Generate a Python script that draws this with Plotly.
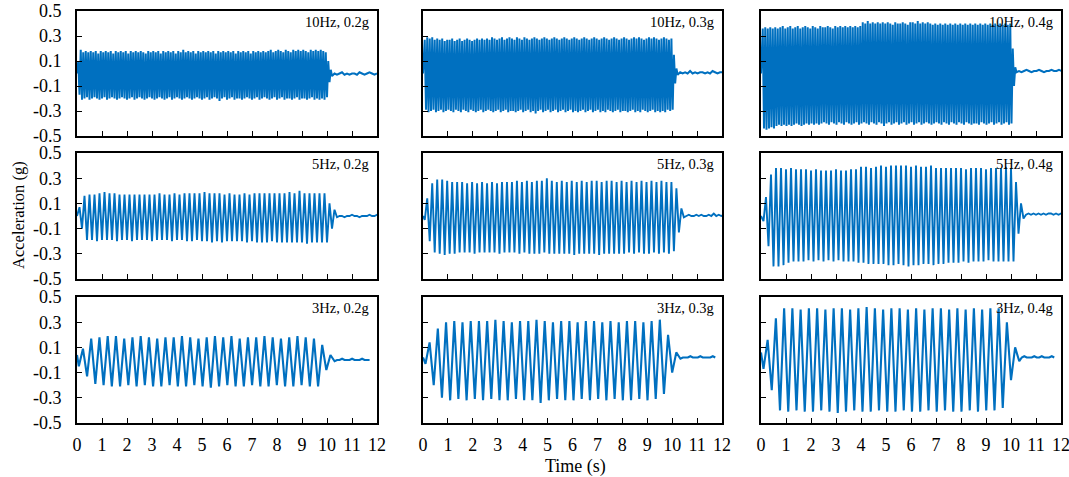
import plotly.graph_objects as go

BLUE = "#0070C0"
FONT = "Liberation Serif, Times New Roman, serif"

TIME_TICKS = list(range(13))
ACC_TICKS = [-0.5, -0.3, -0.1, 0.1, 0.3, 0.5]
ACC_TICK_TEXT = ["-0.5", "-0.3", "-0.1", "0.1", "0.3", "0.5"]

LABELS = [["10Hz, 0.2g", "10Hz, 0.3g", "10Hz, 0.4g"],
          ["5Hz, 0.2g", "5Hz, 0.3g", "5Hz, 0.4g"],
          ["3Hz, 0.2g", "3Hz, 0.3g", "3Hz, 0.4g"]]

# value at t = 0, time of first extreme, time between successive extremes (s)
START = [[0.00, 0.00, 0.00], [0.00, 0.00, 0.00], [0.04, 0.02, 0.06]]
ONSET = [[0.05, 0.07, 0.07], [0.10, 0.07, 0.10], [0.073, 0.10, 0.10]]
HALF = [[0.05, 0.05, 0.05], [0.10, 0.10, 0.10], [0.165, 0.165, 0.165]]
TAIL_STEP = 0.1

# successive extremes (g) of each record
SIG_10HZ_02G = [
    0.10, -0.17, 0.19, -0.21, 0.17, -0.20, 0.18, -0.19, 0.17, -0.21,
    0.18, -0.20, 0.17, -0.19, 0.18, -0.20, 0.16, -0.21, 0.18, -0.20,
    0.17, -0.19, 0.18, -0.21, 0.17, -0.20, 0.18, -0.19, 0.16, -0.20,
    0.18, -0.21, 0.17, -0.20, 0.18, -0.19, 0.17, -0.20, 0.18, -0.21,
    0.16, -0.20, 0.18, -0.19, 0.17, -0.21, 0.18, -0.20, 0.17, -0.19,
    0.18, -0.20, 0.17, -0.21, 0.16, -0.20, 0.18, -0.19, 0.17, -0.20,
    0.18, -0.21, 0.17, -0.20, 0.18, -0.19, 0.16, -0.20, 0.18, -0.21,
    0.17, -0.20, 0.18, -0.19, 0.17, -0.21, 0.18, -0.20, 0.16, -0.19,
    0.18, -0.20, 0.17, -0.21, 0.19, -0.20, 0.17, -0.19, 0.18, -0.20,
    0.17, -0.21, 0.18, -0.20, 0.16, -0.19, 0.18, -0.20, 0.17, -0.21,
    0.18, -0.20, 0.17, -0.19, 0.18, -0.21, 0.17, -0.20, 0.18, -0.19,
    0.16, -0.20, 0.18, -0.22, 0.17, -0.20, 0.18, -0.19, 0.17, -0.21,
    0.18, -0.20, 0.17, -0.19, 0.18, -0.21, 0.16, -0.20, 0.18, -0.20,
    0.17, -0.21, 0.18, -0.20, 0.17, -0.19, 0.18, -0.20, 0.16, -0.21,
    0.18, -0.20, 0.17, -0.19, 0.18, -0.21, 0.17, -0.20, 0.18, -0.19,
    0.17, -0.20, 0.18, -0.21, 0.19, -0.20, 0.17, -0.19, 0.18, -0.21,
    0.19, -0.20, 0.18, -0.19, 0.17, -0.21, 0.19, -0.20, 0.18, -0.20,
    0.17, -0.21, 0.19, -0.20, 0.18, -0.19, 0.19, -0.21, 0.18, -0.20,
    0.19, -0.20, 0.18, -0.21, 0.17, -0.20, 0.19, -0.19, 0.18, -0.21,
    0.19, -0.20, 0.18, -0.21, 0.19, -0.20, 0.18, -0.21, 0.17, -0.19,
    0.10, -0.07, 0.03, -0.02]
SIG_10HZ_03G = [
    0.27, -0.29, 0.29, -0.31, 0.28, -0.30, 0.29, -0.29, 0.27, -0.31,
    0.28, -0.30, 0.27, -0.29, 0.28, -0.31, 0.26, -0.30, 0.27, -0.29,
    0.27, -0.30, 0.28, -0.31, 0.26, -0.29, 0.27, -0.30, 0.28, -0.31,
    0.26, -0.29, 0.27, -0.30, 0.28, -0.31, 0.27, -0.29, 0.26, -0.30,
    0.27, -0.31, 0.28, -0.30, 0.27, -0.29, 0.28, -0.31, 0.27, -0.30,
    0.28, -0.29, 0.27, -0.30, 0.29, -0.31, 0.28, -0.30, 0.27, -0.29,
    0.28, -0.31, 0.29, -0.30, 0.27, -0.29, 0.28, -0.31, 0.29, -0.30,
    0.28, -0.30, 0.27, -0.31, 0.29, -0.30, 0.28, -0.29, 0.27, -0.31,
    0.29, -0.30, 0.28, -0.29, 0.27, -0.31, 0.28, -0.30, 0.29, -0.32,
    0.28, -0.30, 0.27, -0.29, 0.28, -0.31, 0.29, -0.30, 0.28, -0.29,
    0.27, -0.31, 0.28, -0.30, 0.29, -0.29, 0.28, -0.31, 0.27, -0.30,
    0.28, -0.29, 0.29, -0.31, 0.28, -0.30, 0.27, -0.29, 0.28, -0.31,
    0.29, -0.30, 0.28, -0.31, 0.27, -0.30, 0.28, -0.29, 0.29, -0.31,
    0.28, -0.30, 0.27, -0.29, 0.28, -0.31, 0.29, -0.30, 0.28, -0.29,
    0.27, -0.31, 0.28, -0.30, 0.29, -0.31, 0.28, -0.29, 0.27, -0.30,
    0.28, -0.31, 0.29, -0.30, 0.28, -0.29, 0.27, -0.31, 0.28, -0.30,
    0.29, -0.30, 0.28, -0.31, 0.27, -0.30, 0.28, -0.29, 0.29, -0.31,
    0.28, -0.30, 0.29, -0.31, 0.28, -0.29, 0.27, -0.30, 0.28, -0.31,
    0.29, -0.30, 0.28, -0.29, 0.29, -0.31, 0.28, -0.30, 0.27, -0.31,
    0.28, -0.30, 0.29, -0.31, 0.28, -0.29, 0.27, -0.30, 0.28, -0.29,
    0.15, -0.08, 0.04, -0.01]
SIG_10HZ_04G = [
    0.36, -0.44, 0.37, -0.45, 0.36, -0.44, 0.37, -0.43, 0.36, -0.44,
    0.37, -0.42, 0.36, -0.41, 0.37, -0.42, 0.38, -0.41, 0.36, -0.42,
    0.37, -0.41, 0.38, -0.42, 0.36, -0.41, 0.37, -0.40, 0.38, -0.41,
    0.36, -0.42, 0.37, -0.41, 0.38, -0.40, 0.37, -0.41, 0.36, -0.40,
    0.38, -0.41, 0.37, -0.40, 0.36, -0.41, 0.38, -0.40, 0.37, -0.39,
    0.37, -0.40, 0.38, -0.41, 0.37, -0.39, 0.36, -0.40, 0.38, -0.41,
    0.37, -0.39, 0.38, -0.40, 0.37, -0.41, 0.38, -0.39, 0.37, -0.40,
    0.38, -0.41, 0.37, -0.40, 0.38, -0.39, 0.37, -0.41, 0.38, -0.40,
    0.41, -0.39, 0.40, -0.40, 0.42, -0.41, 0.40, -0.39, 0.41, -0.40,
    0.40, -0.41, 0.41, -0.39, 0.40, -0.40, 0.41, -0.42, 0.40, -0.40,
    0.41, -0.39, 0.40, -0.41, 0.39, -0.40, 0.41, -0.39, 0.40, -0.41,
    0.40, -0.40, 0.41, -0.39, 0.40, -0.41, 0.39, -0.40, 0.41, -0.39,
    0.41, -0.41, 0.40, -0.40, 0.42, -0.39, 0.40, -0.41, 0.41, -0.40,
    0.40, -0.39, 0.41, -0.40, 0.40, -0.41, 0.39, -0.40, 0.40, -0.39,
    0.39, -0.40, 0.40, -0.41, 0.39, -0.39, 0.40, -0.40, 0.39, -0.41,
    0.40, -0.39, 0.39, -0.40, 0.40, -0.41, 0.39, -0.39, 0.40, -0.40,
    0.39, -0.41, 0.40, -0.39, 0.39, -0.40, 0.40, -0.41, 0.39, -0.40,
    0.40, -0.40, 0.39, -0.41, 0.40, -0.39, 0.39, -0.40, 0.40, -0.41,
    0.39, -0.40, 0.40, -0.39, 0.39, -0.41, 0.40, -0.40, 0.39, -0.39,
    0.40, -0.41, 0.39, -0.40, 0.40, -0.39, 0.39, -0.41, 0.40, -0.40,
    0.20, -0.10, 0.05, 0.01]
SIG_5HZ_02G = [
    0.07, -0.10, 0.16, -0.19,
    0.17, -0.19, 0.17, -0.20, 0.18, -0.19, 0.19, -0.19, 0.18, -0.19,
    0.18, -0.20, 0.17, -0.19, 0.17, -0.19, 0.17, -0.20, 0.17, -0.19,
    0.17, -0.19, 0.17, -0.19, 0.17, -0.20, 0.17, -0.19, 0.18, -0.19,
    0.17, -0.19, 0.17, -0.20, 0.18, -0.19, 0.17, -0.19, 0.18, -0.20,
    0.18, -0.20, 0.18, -0.19, 0.18, -0.20, 0.19, -0.20, 0.18, -0.21,
    0.18, -0.20, 0.18, -0.21, 0.17, -0.20, 0.18, -0.20, 0.17, -0.20,
    0.17, -0.20, 0.18, -0.21, 0.17, -0.20, 0.18, -0.21, 0.18, -0.21,
    0.18, -0.21, 0.18, -0.20, 0.18, -0.21, 0.18, -0.21, 0.18, -0.21,
    0.19, -0.21, 0.18, -0.21, 0.20, -0.21, 0.18, -0.22, 0.18, -0.21,
    0.18, -0.21, 0.18, -0.21,
    0.18, -0.21, 0.10, -0.10, 0.05, -0.01]
SIG_5HZ_03G = [
    -0.03, 0.14, -0.20, 0.26, -0.29,
    0.29, -0.30, 0.29, -0.31, 0.28, -0.30, 0.27, -0.30, 0.27, -0.29,
    0.27, -0.29, 0.26, -0.29, 0.27, -0.30, 0.26, -0.29, 0.27, -0.29,
    0.26, -0.29, 0.27, -0.29, 0.26, -0.30, 0.27, -0.29, 0.27, -0.29,
    0.27, -0.29, 0.28, -0.30, 0.27, -0.29, 0.28, -0.30, 0.27, -0.30,
    0.28, -0.30, 0.28, -0.29, 0.30, -0.30, 0.28, -0.30, 0.27, -0.30,
    0.28, -0.30, 0.27, -0.30, 0.28, -0.31, 0.27, -0.30, 0.28, -0.30,
    0.27, -0.30, 0.28, -0.30, 0.28, -0.31, 0.27, -0.30, 0.28, -0.30,
    0.28, -0.30, 0.27, -0.30, 0.28, -0.30, 0.27, -0.29, 0.28, -0.30,
    0.27, -0.29, 0.28, -0.30, 0.27, -0.30, 0.28, -0.29, 0.27, -0.30,
    0.28, -0.29, 0.27, -0.30,
    0.27, -0.28, 0.22, -0.13, 0.06, -0.01]
SIG_5HZ_04G = [
    -0.04, 0.15, -0.24, 0.33, -0.40,
    0.38, -0.40, 0.38, -0.39, 0.37, -0.37, 0.38, -0.36, 0.37, -0.36,
    0.37, -0.36, 0.37, -0.35, 0.36, -0.36, 0.37, -0.35, 0.36, -0.36,
    0.36, -0.35, 0.36, -0.36, 0.37, -0.35, 0.36, -0.36, 0.36, -0.36,
    0.37, -0.36, 0.37, -0.37, 0.39, -0.37, 0.39, -0.38, 0.38, -0.38,
    0.39, -0.38, 0.40, -0.38, 0.39, -0.39, 0.40, -0.39, 0.40, -0.38,
    0.40, -0.39, 0.40, -0.40, 0.39, -0.39, 0.40, -0.39, 0.39, -0.38,
    0.39, -0.38, 0.40, -0.39, 0.38, -0.38, 0.38, -0.38, 0.38, -0.37,
    0.38, -0.37, 0.38, -0.37, 0.38, -0.36, 0.37, -0.37, 0.38, -0.36,
    0.38, -0.36, 0.38, -0.36, 0.37, -0.35, 0.38, -0.36, 0.38, -0.36,
    0.38, -0.36, 0.39, -0.36,
    0.38, -0.36, 0.27, -0.14, 0.10, -0.02]
SIG_3HZ_02G = [
    -0.05, 0.09, -0.13, 0.17, -0.19,
    0.18, -0.20, 0.19, -0.21, 0.19, -0.21, 0.17, -0.20, 0.18, -0.21,
    0.19, -0.20, 0.18, -0.21, 0.17, -0.21, 0.18, -0.20, 0.18, -0.21,
    0.19, -0.21, 0.18, -0.20, 0.17, -0.21, 0.18, -0.22, 0.19, -0.21,
    0.18, -0.20, 0.19, -0.21, 0.17, -0.21, 0.18, -0.20, 0.18, -0.21,
    0.19, -0.21, 0.18, -0.20, 0.17, -0.21, 0.18, -0.21, 0.19, -0.20,
    0.18, -0.21, 0.17, -0.21,
    0.12, -0.08, 0.04, -0.01]
SIG_3HZ_03G = [
    -0.03, 0.14, -0.20, 0.25, -0.30,
    0.30, -0.32, 0.31, -0.31, 0.30, -0.32, 0.31, -0.31, 0.31, -0.32,
    0.31, -0.31, 0.32, -0.32, 0.31, -0.32, 0.30, -0.31, 0.31, -0.32,
    0.31, -0.32, 0.32, -0.34, 0.31, -0.32, 0.30, -0.31, 0.31, -0.32,
    0.31, -0.32, 0.30, -0.31, 0.31, -0.32, 0.31, -0.31, 0.30, -0.32,
    0.31, -0.31, 0.30, -0.32, 0.31, -0.32, 0.31, -0.31, 0.30, -0.32,
    0.31, -0.31, 0.32, -0.27,
    0.20, -0.10, 0.06, 0.01]
SIG_3HZ_04G = [
    -0.07, 0.16, -0.24, 0.33, -0.40,
    0.41, -0.41, 0.41, -0.40, 0.40, -0.41, 0.41, -0.41, 0.41, -0.40,
    0.40, -0.41, 0.41, -0.42, 0.41, -0.41, 0.40, -0.40, 0.41, -0.41,
    0.42, -0.41, 0.41, -0.40, 0.40, -0.41, 0.41, -0.41, 0.41, -0.40,
    0.40, -0.41, 0.41, -0.41, 0.40, -0.40, 0.41, -0.41, 0.41, -0.40,
    0.40, -0.41, 0.41, -0.41, 0.40, -0.40, 0.41, -0.41, 0.40, -0.40,
    0.41, -0.40, 0.41, -0.38,
    0.30, -0.16, 0.10, -0.01]

# residual signal after shaking stops (one value every TAIL_STEP)
TAIL_10HZ_02G = [0.00, -0.01, 0.00, 0.01, -0.01, 0.00, -0.01, 0.00, 0.00,
                 -0.01, 0.01, 0.00, -0.01, 0.00, 0.01, 0.00, -0.01, 0.00]
TAIL_10HZ_03G = [0.01, 0.00, 0.01, 0.00, 0.02, 0.00, 0.01, 0.00, 0.01,
                 0.01, 0.00, 0.01, 0.00, 0.02, 0.01, 0.00, 0.01, 0.01]
TAIL_10HZ_04G = [0.02, 0.01, 0.02, 0.03, 0.02, 0.01, 0.02, 0.02, 0.03,
                 0.02, 0.01, 0.02, 0.02, 0.03, 0.02, 0.02, 0.03, 0.02]
TAIL_5HZ_02G = [0.00, 0.00, -0.01, 0.00, 0.00, 0.01, 0.00, 0.00, -0.01,
                0.00, 0.00, 0.00, 0.01, 0.00, 0.00, 0.01, 0.00]
TAIL_5HZ_03G = [0.00, 0.01, 0.00, 0.00, 0.01, 0.00, 0.01, 0.00, 0.00,
                0.01, 0.00, 0.02, 0.00, 0.01, 0.00, 0.01]
TAIL_5HZ_04G = [0.01, 0.02, 0.01, 0.02, 0.01, 0.02, 0.01, 0.02, 0.01,
                0.02, 0.02, 0.01, 0.02, 0.01, 0.02, 0.01]
TAIL_3HZ_02G = [0.00, 0.00, 0.01, 0.00, 0.00, 0.00, 0.01, 0.00, 0.00,
                0.00, 0.01, 0.00, 0.00, 0.00]
TAIL_3HZ_03G = [0.02, 0.02, 0.02, 0.03, 0.02, 0.02, 0.02, 0.03, 0.02,
                0.02, 0.02, 0.02, 0.03, 0.02]
TAIL_3HZ_04G = [0.02, 0.03, 0.02, 0.02, 0.02, 0.03, 0.02, 0.02, 0.03,
                0.02, 0.02, 0.02, 0.03, 0.02]

SIGNALS = [[SIG_10HZ_02G, SIG_10HZ_03G, SIG_10HZ_04G],
           [SIG_5HZ_02G, SIG_5HZ_03G, SIG_5HZ_04G],
           [SIG_3HZ_02G, SIG_3HZ_03G, SIG_3HZ_04G]]
TAILS = [[TAIL_10HZ_02G, TAIL_10HZ_03G, TAIL_10HZ_04G],
         [TAIL_5HZ_02G, TAIL_5HZ_03G, TAIL_5HZ_04G],
         [TAIL_3HZ_02G, TAIL_3HZ_03G, TAIL_3HZ_04G]]
LINE_W = [2.0, 1.9, 2.1]

# Page layout: the figure fills the whole 1069 x 477 window (the page's
# body margin is removed once the plot is drawn).
W, H = 1069, 477
COL_PX = [(77, 377), (423, 722), (761, 1061)]
ROW_PX = [(11, 136), (153, 279), (297, 423)]


def px_x(p):
    return p / W


def px_y(p):
    return 1 - p / H


fig = go.Figure()
layout = dict(
    template="none",
    width=W, height=H, margin=dict(l=0, r=0, t=0, b=0, pad=0),
    paper_bgcolor="white", plot_bgcolor="white", showlegend=False,
    font=dict(family=FONT, color="black", size=18),
)
annotations = []

for r in range(3):
    for c in range(3):
        k = r * 3 + c + 1
        sfx = "" if k == 1 else str(k)
        sig = SIGNALS[r][c]
        tail = TAILS[r][c]
        t = [0.0] + [ONSET[r][c] + i * HALF[r][c] for i in range(len(sig))]
        last = t[-1]
        t += [last + (j + 1) * TAIL_STEP for j in range(len(tail))]
        y = [START[r][c]] + sig + tail
        fig.add_trace(go.Scatter(
            x=t, y=y, mode="lines", xaxis="x" + sfx, yaxis="y" + sfx,
            line=dict(color=BLUE, width=LINE_W[r], simplify=False),
            hoverinfo="skip"))
        x0, x1 = COL_PX[c]
        top, bot = ROW_PX[r]
        layout["xaxis" + sfx] = dict(
            domain=[px_x(x0), px_x(x1)], anchor="y" + sfx, range=[0, 12],
            tickvals=TIME_TICKS, ticktext=[str(v) for v in TIME_TICKS],
            ticks="inside", ticklen=5, tickwidth=1.3, tickcolor="black",
            showline=True, mirror=True, linecolor="black", linewidth=1.6,
            showgrid=False, zeroline=False, showticklabels=(r == 2),
            tickfont=dict(family=FONT, size=18, color="black"),
            ticklabelstandoff=5, ticklabeloverflow="allow",
            automargin=False, fixedrange=True)
        layout["yaxis" + sfx] = dict(
            domain=[px_y(bot), px_y(top)], anchor="x" + sfx,
            range=[-0.5, 0.5], tickvals=ACC_TICKS, ticktext=ACC_TICK_TEXT,
            ticks="inside", ticklen=5, tickwidth=1.3, tickcolor="black",
            showline=True, mirror=True, linecolor="black", linewidth=1.6,
            showgrid=False, zeroline=False, showticklabels=(c == 0),
            tickfont=dict(family=FONT, size=18, color="black"),
            ticklabelstandoff=10, ticklabeloverflow="allow",
            automargin=False, fixedrange=True)
        annotations.append(dict(
            text=LABELS[r][c], xref="x" + sfx + " domain",
            yref="y" + sfx + " domain", x=1, y=1, xanchor="right",
            yanchor="middle", xshift=-6, yshift=-11, showarrow=False,
            font=dict(family=FONT, size=14.5, color="black")))

annotations.append(dict(text="Time (s)", xref="paper", yref="paper",
                        x=px_x(575), y=px_y(466), xanchor="center",
                        yanchor="middle", showarrow=False,
                        font=dict(family=FONT, size=18, color="black")))
annotations.append(dict(text="Acceleration (g)", xref="paper", yref="paper",
                        x=px_x(18), y=px_y(215), xanchor="center",
                        yanchor="middle", textangle=-90, showarrow=False,
                        font=dict(family=FONT, size=16.5, color="black")))
layout["annotations"] = annotations
fig.update_layout(**layout)
fig.write_html("out.html", config={"displayModeBar": False},
               post_script="document.body.style.margin='0';"
                           "document.body.style.overflow='hidden';")
